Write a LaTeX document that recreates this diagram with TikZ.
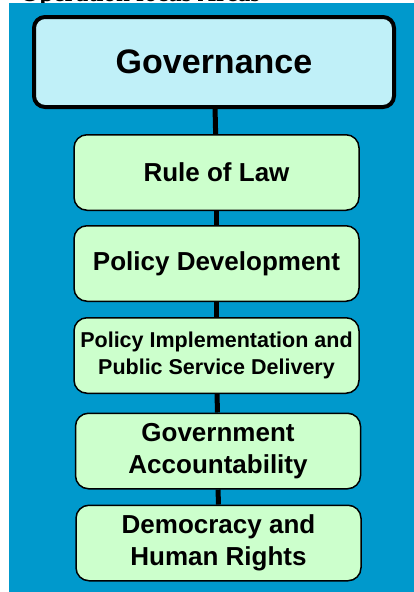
\documentclass[tikz,border=0pt]{standalone}
\usepackage{fontspec}
\setmainfont{Liberation Sans}
\newfontfamily\serifb{Liberation Serif}
\usetikzlibrary{backgrounds}
\definecolor{bgblue}{HTML}{0099CC}
\definecolor{govfill}{HTML}{C0F0F8}
\definecolor{areafill}{HTML}{CCFFCC}
\tikzset{
  govbox/.style={draw=black, line width=4pt, fill=govfill, rounded corners=11pt,
    minimum width=360pt, minimum height=90pt, inner sep=0pt,
    font=\bfseries\fontsize{34}{38}\selectfont},
  areabox/.style={draw=black, line width=1.5pt, fill=areafill, rounded corners=13pt,
    minimum width=285pt, minimum height=75.5pt, inner sep=0pt, align=center,
    font=\bfseries\fontsize{26}{31.5}\selectfont},
  smallarea/.style={areabox, font=\bfseries\fontsize{21.5}{27}\selectfont},
  conn/.style={draw=black, line width=5pt}
}
\begin{document}
\begin{tikzpicture}[x=1pt,y=-1pt]
\useasboundingbox (0,0) rectangle (414,592);
\node[govbox] (gov) at (214,62) {Governance};
\node[areabox] (rol) at (216.5,172.5) {Rule of Law};
\node[areabox] (pd) at (216.5,263.5) {Policy Development};
\node[smallarea] (pi) at (216.5,355.5) {Policy Implementation and\\Public Service Delivery};
\node[areabox] (ga) at (218,451) {\raisebox{-3pt}{Government}\\\raisebox{-3pt}{Accountability}};
\node[areabox] (dhr) at (218.5,543) {\raisebox{-3pt}{Democracy and}\\\raisebox{-3pt}{Human Rights}};
\begin{scope}[on background layer]
  \node[anchor=base west, inner sep=0pt, font=\serifb\bfseries\fontsize{25}{30}\selectfont] (title) at (20,1.2) {Operation focus Areas};
  \fill[bgblue] (9,3) rectangle (414,592);
  \draw[conn] (gov) -- (rol);
  \draw[conn] (rol) -- (pd);
  \draw[conn] (pd) -- (pi);
  \draw[conn] (pi) -- (ga);
  \draw[conn] (ga) -- (dhr);
\end{scope}
\end{tikzpicture}
\end{document}
